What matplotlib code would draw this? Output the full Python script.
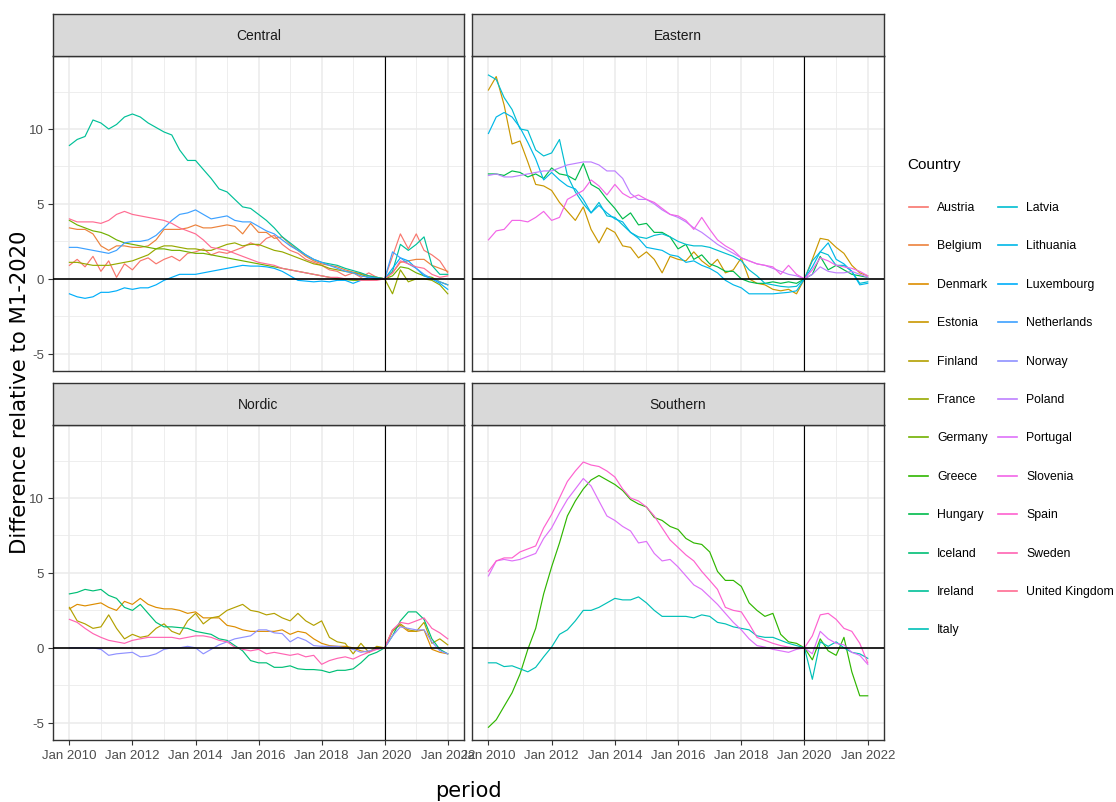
import numpy as np
import pandas as pd
import matplotlib
matplotlib.use("Agg")
import matplotlib.pyplot as plt
import matplotlib.dates as mdates
from matplotlib.lines import Line2D

# quarterly observations, Jan 2010 .. Jan 2022
periods = pd.date_range("2010-01-01", "2022-01-01", freq="QS")

austria = [0.9, 1.3, 0.8, 1.5, 0.5, 1.2, 0.1, 1.0, 0.6, 1.2, 1.4, 1.0,
           1.3, 1.5, 1.2, 1.7, 1.8, 2.0, 1.6, 1.8, 1.7, 1.9, 2.1, 2.4,
           2.2, 2.7, 2.9, 2.3, 1.9, 1.7, 1.3, 1.1, 0.9, 0.6, 0.5, 0.2,
           0.4, 0.1, 0.4, 0.1, 0.0, 1.5, 3.0, 2.0, 3.0, 1.9, 1.6, 1.2, 0.4]
belgium = [3.4, 3.3, 3.3, 3.0, 2.2, 1.9, 2.2, 2.2, 2.1, 2.1, 2.2, 2.6,
           3.3, 3.3, 3.3, 3.4, 3.6, 3.4, 3.4, 3.5, 3.6, 3.5, 3.0, 3.7,
           3.1, 3.1, 2.7, 2.8, 2.3, 1.9, 1.5, 1.2, 1.0, 0.9, 0.8, 0.6,
           0.45, 0.35, 0.2, 0.1, 0.0, 0.4, 1.1, 1.2, 1.3, 1.3, 0.9, 0.7, 0.5]
denmark = [2.6, 2.9, 2.8, 2.9, 3.0, 2.7, 2.5, 3.1, 2.9, 3.3, 2.9, 2.7,
           2.6, 2.6, 2.5, 2.3, 2.4, 2.0, 2.0, 2.0, 1.5, 1.4, 1.2, 1.1,
           1.1, 1.1, 1.1, 1.2, 0.9, 1.1, 1.0, 0.6, 0.3, 0.15, 0.1, 0.1,
           0.0, -0.2, -0.3, 0.0, 0.0, 1.2, 1.5, 1.1, 1.1, 1.2, -0.1, -0.3, -0.4]
estonia = [12.6, 13.5, 11.6, 9.0, 9.2, 7.8, 6.3, 6.2, 5.9, 5.1, 4.5, 3.9,
           4.8, 3.3, 2.4, 3.4, 3.1, 2.2, 2.1, 1.4, 1.8, 1.3, 0.4, 1.5,
           1.3, 1.2, 1.8, 1.2, 0.8, 1.3, 0.4, 0.6, 1.4, 0.0, -0.3, -0.4,
           -0.7, -0.8, -0.7, -1.0, 0.0, 1.3, 2.7, 2.6, 2.1, 1.7, 0.9, 0.4, 0.2]
finland = [2.7, 1.8, 1.6, 1.3, 1.4, 2.2, 1.3, 0.6, 0.9, 0.7, 0.8, 1.3,
           1.6, 1.1, 0.9, 1.8, 2.3, 1.6, 2.0, 2.1, 2.5, 2.7, 2.9, 2.5,
           2.4, 2.2, 2.3, 2.0, 1.8, 2.3, 1.8, 1.5, 1.8, 0.7, 0.4, 0.3,
           -0.4, 0.3, -0.3, 0.1, 0.0, 1.1, 1.6, 1.2, 1.1, 1.7, 0.3, 0.6, 0.2]
france = [1.1, 1.1, 1.0, 0.9, 0.9, 0.9, 1.0, 1.1, 1.2, 1.4, 1.6, 2.0,
          2.2, 2.2, 2.1, 2.0, 2.0, 1.9, 1.9, 2.1, 2.3, 2.4, 2.2, 2.3,
          2.3, 2.1, 1.9, 1.8, 1.6, 1.4, 1.2, 1.0, 0.9, 0.7, 0.6, 0.5,
          0.4, 0.3, 0.1, 0.1, 0.0, -1.0, 0.6, -0.2, 0.0, 0.0, -0.1, -0.4, -1.0]
germany = [3.9, 3.6, 3.4, 3.2, 3.1, 2.9, 2.6, 2.4, 2.3, 2.2, 2.1, 2.0,
           2.0, 1.9, 1.9, 1.8, 1.7, 1.7, 1.6, 1.5, 1.4, 1.3, 1.2, 1.1,
           1.0, 0.9, 0.8, 0.7, 0.6, 0.5, 0.4, 0.3, 0.2, 0.1, 0.0, -0.05,
           -0.1, -0.1, -0.1, -0.05, 0.0, 0.2, 0.8, 0.7, 0.4, 0.2, 0.1, -0.2, -0.4]
greece = [-5.3, -4.8, -3.9, -3.0, -1.75, -0.1, 1.3, 3.6, 5.4, 7.0, 8.8, 9.8,
          10.6, 11.2, 11.5, 11.2, 10.9, 10.5, 9.9, 9.6, 9.4, 8.7, 8.5, 8.1,
          7.9, 7.3, 7.0, 6.9, 6.4, 5.1, 4.5, 4.5, 4.1, 3.0, 2.5, 2.1,
          2.3, 0.9, 0.4, 0.3, 0.0, -0.8, 0.6, -0.2, -0.5, 0.7, -1.6, -3.2, -3.2]
hungary = [7.0, 7.0, 6.9, 7.2, 7.1, 6.8, 7.0, 6.7, 7.4, 7.0, 6.9, 6.6,
           7.7, 6.3, 6.0, 5.3, 4.7, 4.0, 4.4, 3.6, 3.7, 3.1, 3.1, 2.8,
           2.0, 2.3, 1.3, 1.6, 1.0, 0.8, 0.5, 0.5, 0.0, -0.2, -0.3, -0.3,
           -0.2, -0.3, -0.2, -0.3, 0.0, 0.3, 1.5, 0.6, 0.9, 0.6, 0.3, 0.2, 0.1]
iceland = [3.6, 3.7, 3.9, 3.8, 3.9, 3.5, 3.3, 2.7, 2.5, 2.9, 2.3, 1.7,
           1.4, 1.4, 1.35, 1.3, 1.1, 1.0, 0.9, 0.6, 0.5, 0.15, -0.2, -0.85,
           -1.0, -1.0, -1.3, -1.3, -1.2, -1.4, -1.45, -1.45, -1.5, -1.65, -1.5, -1.5,
           -1.4, -1.0, -0.5, -0.3, 0.0, 0.8, 1.8, 2.4, 2.4, 1.9, 0.6, -0.1, -0.4]
ireland = [8.9, 9.3, 9.5, 10.6, 10.4, 10.0, 10.3, 10.8, 11.0, 10.8, 10.4, 10.1,
           9.8, 9.6, 8.6, 7.9, 7.9, 7.3, 6.7, 6.0, 5.8, 5.3, 4.8, 4.7,
           4.3, 3.9, 3.4, 2.8, 2.4, 2.0, 1.6, 1.3, 1.1, 1.0, 0.9, 0.7,
           0.55, 0.4, 0.2, 0.1, 0.0, 0.5, 2.3, 1.9, 2.3, 2.8, 0.9, 0.3, 0.3]
italy = [-1.0, -1.0, -1.25, -1.2, -1.4, -1.6, -1.3, -0.6, 0.05, 0.9, 1.2, 1.8,
         2.5, 2.5, 2.7, 3.0, 3.3, 3.2, 3.2, 3.4, 3.0, 2.5, 2.1, 2.1,
         2.1, 2.1, 2.0, 2.2, 2.1, 1.7, 1.6, 1.4, 1.3, 1.2, 0.8, 0.7,
         0.7, 0.5, 0.3, 0.15, 0.0, -2.1, 0.4, 0.1, 0.4, 0.0, -0.3, -0.4, -0.7]
latvia = [13.6, 13.3, 12.1, 11.3, 10.0, 9.9, 8.6, 8.2, 8.4, 9.3, 6.9, 5.8,
          5.0, 4.4, 5.1, 4.2, 4.1, 3.6, 3.1, 2.8, 2.7, 2.9, 3.0, 2.8,
          2.5, 2.3, 2.2, 2.2, 2.1, 1.9, 1.7, 1.5, 1.2, 0.6, 0.2, -0.3,
          -0.4, -0.5, -0.55, -0.5, 0.0, 1.2, 1.8, 1.6, 0.9, 0.9, 0.5, -0.3, -0.2]
lithuania = [9.7, 10.8, 11.1, 10.8, 10.1, 9.1, 8.0, 6.6, 7.1, 6.6, 6.2, 6.0,
             5.3, 4.4, 4.9, 4.4, 4.0, 3.8, 3.1, 2.7, 2.1, 2.0, 1.9, 1.6,
             1.5, 1.1, 1.2, 0.9, 0.7, 0.4, -0.1, -0.4, -0.6, -1.0, -1.0, -1.0,
             -1.0, -0.95, -0.9, -0.8, 0.0, 0.8, 1.8, 2.4, 1.3, 1.0, 0.5, -0.4, -0.3]
luxembourg = [-1.0, -1.2, -1.3, -1.2, -0.9, -0.9, -0.8, -0.6, -0.7, -0.6, -0.6, -0.4,
              -0.1, 0.1, 0.3, 0.3, 0.3, 0.4, 0.5, 0.6, 0.7, 0.8, 0.9, 0.85,
              0.85, 0.8, 0.7, 0.5, 0.2, -0.1, -0.15, -0.2, -0.15, -0.2, -0.1, -0.1,
              -0.3, -0.1, 0.1, 0.0, 0.0, 0.7, 1.4, 1.2, 0.7, 0.2, 0.0, -0.3, -0.7]
netherlands = [2.1, 2.1, 2.0, 1.9, 1.8, 1.7, 1.9, 2.4, 2.5, 2.5, 2.6, 2.9,
               3.4, 3.9, 4.3, 4.4, 4.6, 4.3, 4.0, 4.1, 4.2, 3.9, 3.8, 3.8,
               3.5, 3.2, 3.0, 2.6, 2.2, 1.9, 1.6, 1.3, 1.1, 0.9, 0.7, 0.5,
               0.4, 0.2, 0.1, 0.05, 0.0, 1.8, 1.4, 1.0, 0.7, 0.3, 0.0, -0.2, -0.4]
norway = [0.0, 0.0, 0.0, 0.0, -0.1, -0.5, -0.4, -0.35, -0.3, -0.6, -0.55, -0.4,
          -0.1, 0.0, 0.0, 0.1, 0.0, -0.4, -0.1, 0.2, 0.4, 0.6, 0.7, 0.8,
          1.2, 1.2, 1.0, 0.95, 0.4, 0.7, 0.5, 0.15, 0.1, 0.1, 0.1, 0.0,
          -0.1, -0.3, -0.2, -0.1, 0.0, 0.8, 1.4, 1.3, 1.2, 1.2, 0.4, -0.2, -0.4]
poland = [6.9, 7.0, 6.8, 6.8, 6.9, 7.0, 7.1, 7.2, 7.2, 7.4, 7.6, 7.7,
          7.8, 7.8, 7.6, 7.2, 7.2, 6.7, 5.7, 5.3, 5.3, 5.0, 4.6, 4.3,
          4.1, 3.8, 3.4, 3.1, 2.7, 2.3, 2.0, 1.7, 1.4, 1.2, 1.0, 0.9,
          0.7, 0.5, 0.3, 0.2, 0.0, 0.3, 0.8, 0.5, 0.4, 0.4, 0.5, 0.3, 0.1]
portugal = [4.8, 5.8, 5.9, 5.8, 5.9, 6.1, 6.3, 7.3, 8.0, 9.0, 9.9, 10.6,
            11.3, 10.8, 9.8, 8.8, 8.5, 8.1, 7.8, 7.0, 7.1, 6.3, 5.8, 5.9,
            5.4, 4.8, 4.2, 3.9, 3.4, 2.9, 2.3, 1.7, 1.2, 0.6, 0.15, 0.05,
            -0.1, -0.2, -0.3, -0.1, 0.0, -0.4, 1.1, 0.6, 0.3, 0.2, -0.3, -0.5, -1.1]
slovenia = [2.6, 3.2, 3.3, 3.9, 3.9, 3.8, 4.1, 4.5, 3.9, 4.1, 5.3, 5.6,
            5.9, 6.6, 6.2, 5.6, 6.3, 5.7, 5.4, 5.6, 5.3, 5.1, 4.7, 4.3,
            4.2, 3.9, 3.3, 4.1, 3.3, 2.6, 2.2, 1.9, 1.4, 1.2, 1.0, 0.9,
            0.8, 0.3, 0.9, 0.3, 0.0, 0.6, 1.4, 1.2, 0.9, 0.8, 0.7, 0.5, 0.2]
spain = [5.1, 5.8, 6.0, 6.0, 6.4, 6.6, 6.8, 8.0, 8.9, 10.0, 11.1, 11.8,
         12.4, 12.2, 12.1, 11.8, 11.4, 10.6, 10.0, 9.8, 9.4, 8.8, 8.0, 7.2,
         6.7, 6.2, 5.8, 5.1, 4.5, 3.9, 2.7, 2.5, 2.4, 1.6, 0.7, 0.5,
         0.3, 0.15, 0.05, 0.0, 0.0, 0.8, 2.2, 2.3, 1.9, 1.3, 1.1, 0.3, -1.0]
sweden = [1.9, 1.7, 1.3, 0.95, 0.7, 0.5, 0.4, 0.3, 0.5, 0.6, 0.7, 0.7,
          0.7, 0.7, 0.6, 0.7, 0.8, 0.8, 0.7, 0.5, 0.4, 0.05, -0.1, -0.2,
          -0.1, -0.4, -0.3, -0.4, -0.5, -0.4, -0.6, -0.5, -1.1, -0.85, -0.7, -0.6,
          -0.75, -0.5, -0.3, -0.1, 0.0, 1.2, 1.7, 1.6, 1.8, 2.0, 1.3, 1.0, 0.6]
united_kingdom = [4.0, 3.8, 3.8, 3.8, 3.7, 3.9, 4.3, 4.5, 4.3, 4.2, 4.1, 4.0,
                  3.9, 3.7, 3.4, 3.2, 3.0, 2.6, 2.1, 2.0, 1.9, 1.7, 1.5, 1.3,
                  1.1, 1.0, 0.9, 0.7, 0.6, 0.5, 0.4, 0.3, 0.2, 0.1, 0.1, 0.0,
                  0.0, -0.1, -0.1, -0.1, 0.0, 0.4, 1.2, 1.0, 0.8, 0.7, 0.3, 0.1, 0.2]

countries = ["Austria", "Belgium", "Denmark", "Estonia", "Finland", "France",
             "Germany", "Greece", "Hungary", "Iceland", "Ireland", "Italy",
             "Latvia", "Lithuania", "Luxembourg", "Netherlands", "Norway",
             "Poland", "Portugal", "Slovenia", "Spain", "Sweden", "United Kingdom"]
values = [austria, belgium, denmark, estonia, finland, france, germany, greece,
          hungary, iceland, ireland, italy, latvia, lithuania, luxembourg,
          netherlands, norway, poland, portugal, slovenia, spain, sweden,
          united_kingdom]

regions = {
    "Central": ["Austria", "Belgium", "France", "Germany", "Ireland",
                "Luxembourg", "Netherlands", "United Kingdom"],
    "Eastern": ["Estonia", "Hungary", "Latvia", "Lithuania", "Poland", "Slovenia"],
    "Nordic": ["Denmark", "Finland", "Iceland", "Norway", "Sweden"],
    "Southern": ["Greece", "Italy", "Portugal", "Spain"],
}

y_ticks = [-5, 0, 5, 10]
y_minor = [-2.5, 2.5, 7.5, 12.5]


def hue_pal(n, c=100.0, l=65.0):
    # ggplot-style evenly spaced hues in polar CIE-Luv
    h = np.deg2rad(15 + np.arange(n) * 360.0 / n)
    u, v = c * np.cos(h), c * np.sin(h)
    Y = ((l + 16) / 116) ** 3
    xn, yn, zn = 0.95047, 1.0, 1.08883
    d = xn + 15 * yn + 3 * zn
    up = u / (13 * l) + 4 * xn / d
    vp = v / (13 * l) + 9 * yn / d
    X = Y * 9 * up / (4 * vp)
    Z = Y * (12 - 3 * up - 20 * vp) / (4 * vp)
    m = np.array([[3.2404542, -1.5371385, -0.4985314],
                  [-0.9692660, 1.8760108, 0.0415560],
                  [0.0556434, -0.2040259, 1.0572252]])
    rgb = np.clip(m @ np.vstack([X, np.full(n, Y), Z]), 0, 1)
    rgb = np.where(rgb > 0.0031308, 1.055 * rgb ** (1 / 2.4) - 0.055, 12.92 * rgb)
    return np.clip(rgb.T, 0, 1)


colors = dict(zip(countries, hue_pal(len(countries))))
series = dict(zip(countries, values))

narrow = ["Liberation Sans", "DejaVu Sans"]
wide = ["DejaVu Sans"]

W, H = 1116, 803
fig = plt.figure(figsize=(W / 100, H / 100), dpi=100)


def box(x0, y0, x1, y1):
    return [x0 / W, 1 - y1 / H, (x1 - x0) / W, (y1 - y0) / H]


panels = {
    "Central": (53, 57, 464, 372),
    "Eastern": (472, 57, 884, 372),
    "Nordic": (53, 426, 464, 741),
    "Southern": (472, 426, 884, 741),
}

xlim = (pd.Timestamp("2009-06-25"), pd.Timestamp("2022-07-08"))
covid = pd.Timestamp("2020-01-01")

for name, (x0, y0, x1, y1) in panels.items():
    ax = fig.add_axes(box(x0, y0, x1, y1))
    for c in regions[name]:
        ax.plot(periods, series[c], color=colors[c], lw=0.85, zorder=3)
    ax.axhline(0, color="black", lw=1.2, zorder=4)
    ax.axvline(covid, color="black", lw=0.8, zorder=4)

    ax.set_xlim(*xlim)
    ax.set_ylim(-6.15, 14.87)
    ax.xaxis.set_major_locator(mdates.YearLocator(2))
    ax.xaxis.set_minor_locator(mdates.YearLocator(1))
    ax.xaxis.set_major_formatter(mdates.DateFormatter("%b %Y"))
    ax.set_yticks(y_ticks)
    ax.set_yticklabels([str(t) for t in y_ticks])
    ax.set_yticks(y_minor, minor=True)
    ax.grid(which="major", color="#EBEBEB", lw=1.1, zorder=0)
    ax.grid(which="minor", color="#EBEBEB", lw=0.6, zorder=0)
    ax.set_axisbelow(True)
    for s in ax.spines.values():
        s.set_color("#333333")
        s.set_linewidth(1.0)
    ax.tick_params(which="major", length=3.5, width=0.8, color="#333333",
                   labelcolor="#4D4D4D", labelsize=9.5, pad=3)
    ax.tick_params(which="minor", length=0)
    for lab in ax.get_xticklabels() + ax.get_yticklabels():
        lab.set_family(narrow)
    if name in ("Central", "Eastern"):
        ax.tick_params(axis="x", which="major", length=0, labelbottom=False)
    if name in ("Eastern", "Southern"):
        ax.tick_params(axis="y", which="major", length=0, labelleft=False)

    # facet strip
    sa = fig.add_axes(box(x0, y0 - 42, x1, y0))
    sa.set_facecolor("#D9D9D9")
    sa.set_xticks([])
    sa.set_yticks([])
    for s in sa.spines.values():
        s.set_color("#333333")
        s.set_linewidth(1.0)
    sa.text(0.5, 0.5, name, ha="center", va="center", fontsize=10,
            color="#1A1A1A", family=narrow, transform=sa.transAxes)

fig.text(20 / W, 1 - 392 / H, "Difference relative to M1-2020", rotation=90,
         ha="center", va="center", fontsize=15.2, family=wide, color="black")
fig.text(468 / W, 1 - 791 / H, "period", ha="center", va="center",
         fontsize=15, family=wide, color="black")

# legend, two columns filled top to bottom
fig.text(907 / W, 1 - 165 / H, "Country", ha="left", va="center",
         fontsize=11, family=narrow, color="black")
for i, c in enumerate(countries):
    col, row = divmod(i, 12)
    ky = 1 - (208 + row * 38.4) / H
    kx = 909 + col * 89
    fig.add_artist(Line2D([kx / W, (kx + 19) / W], [ky, ky],
                          color=colors[c], lw=1.2, transform=fig.transFigure))
    fig.text((kx + 28) / W, ky, c, ha="left", va="center", fontsize=8.8,
             family=narrow, color="black")

fig.savefig("out.png", dpi=100)
